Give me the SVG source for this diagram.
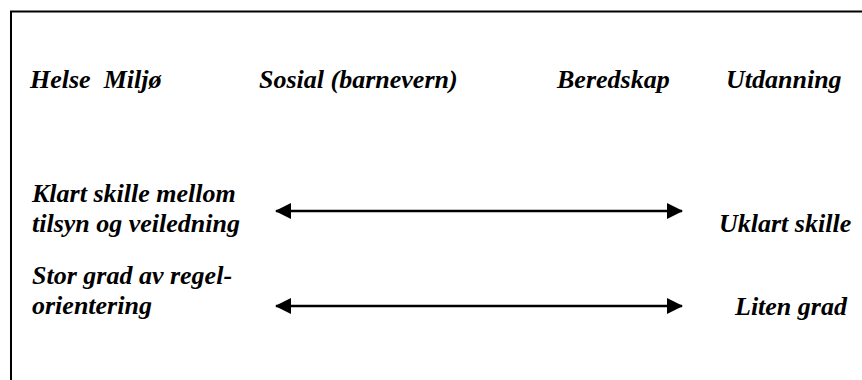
<svg xmlns="http://www.w3.org/2000/svg" width="862" height="380" viewBox="0 0 862 380">
<style>
.t{font-family:"Liberation Serif","Times New Roman",serif;font-size:26px;font-weight:bold;font-style:italic;fill:#000}
.c{stroke:#000;stroke-width:2.5;fill:none}
</style>
<defs>
<marker id="ah" viewBox="0 0 16 16" refX="15" refY="8" markerWidth="16" markerHeight="16" markerUnits="userSpaceOnUse" orient="auto-start-reverse">
<path d="M0,0 L16,8 L0,16 Z" fill="#000"/>
</marker>
</defs>
<rect width="862" height="380" fill="#fff"/>
<g id="frame">
<path d="M11,380 V11.5 H862" fill="none" stroke="#000" stroke-width="2"/>
</g>
<g id="header">
<text class="t" x="30" y="88" xml:space="preserve">Helse  Miljø</text>
<text class="t" x="259" y="88">Sosial (barnevern)</text>
<text class="t" x="557" y="88">Beredskap</text>
<text class="t" x="726" y="88">Utdanning</text>
</g>
<g id="left1">
<text class="t" x="32" y="202">Klart skille mellom</text>
<text class="t" x="32" y="232">tilsyn og veiledning</text>
</g>
<g id="left2">
<text class="t" x="32" y="284">Stor grad av regel-</text>
<text class="t" x="32" y="314">orientering</text>
</g>
<g id="right1">
<text class="t" x="719" y="232">Uklart skille</text>
</g>
<g id="right2">
<text class="t" x="735" y="315">Liten grad</text>
</g>
<g id="connectors">
<line class="c" x1="276" y1="211" x2="682" y2="211" marker-start="url(#ah)" marker-end="url(#ah)"/>
<line class="c" x1="276" y1="306" x2="682" y2="306" marker-start="url(#ah)" marker-end="url(#ah)"/>
</g>
</svg>
